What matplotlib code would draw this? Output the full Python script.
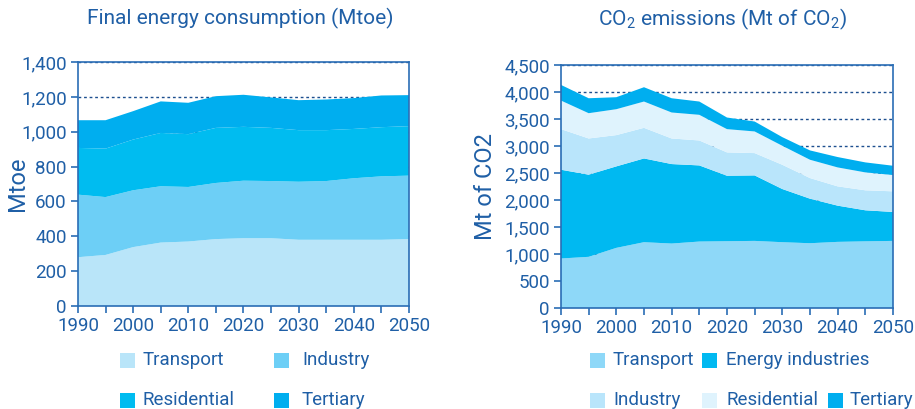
import matplotlib
matplotlib.use("Agg")
import matplotlib.pyplot as plt
from matplotlib.patches import Rectangle
from matplotlib.ticker import MultipleLocator, FuncFormatter

# ── Data ───────────────────────────────────────────────────────────
YEARS = [1990, 1995, 2000, 2005, 2010, 2015, 2020, 2025, 2030, 2035, 2040, 2045, 2050]

# Final energy consumption (Mtoe), one layer per sector
FEC_NAMES = ["Transport", "Industry", "Residential", "Tertiary"]
FEC_TRANSPORT = [280, 293, 338, 364, 370, 384, 389, 389, 380, 380, 380, 380, 384]
FEC_INDUSTRY = [359, 332, 326, 323, 313, 322, 330, 328, 333, 337, 353, 364, 364]
FEC_RESIDENTIAL = [268, 278, 291, 306, 303, 316, 309, 305, 296, 292, 283, 282, 284]
FEC_TERTIARY = [159, 163, 163, 181, 180, 182, 184, 175, 172, 176, 177, 182, 178]

# CO2 emissions (Mt)
CO2_NAMES = ["Transport", "Energy industries", "Industry", "Residential", "Tertiary"]
CO2_TRANSPORT = [917, 948, 1114, 1219, 1194, 1231, 1237, 1243, 1219, 1200, 1225, 1235, 1243]
CO2_ENERGY = [1644, 1521, 1509, 1551, 1472, 1410, 1213, 1213, 985, 825, 671, 575, 536]
CO2_INDUSTRY = [752, 671, 579, 567, 474, 462, 432, 413, 449, 382, 357, 370, 382]
CO2_RESIDENTIAL = [529, 468, 480, 487, 481, 475, 431, 401, 352, 339, 351, 332, 302]
CO2_TERTIARY = [290, 277, 222, 265, 264, 246, 215, 184, 160, 173, 192, 185, 172]

# ── Style ──────────────────────────────────────────────────────────
TEXT = "#1f5fa6"
SPINE = "#2a6db5"
FEC_COLORS = ["#b9e5f9", "#6dcff6", "#00bcf0", "#00aeef"]
CO2_COLORS = ["#8ed8f8", "#00b9f1", "#b9e5fb", "#dff3fd", "#00aeef"]

plt.rcParams["font.family"] = ["Roboto", "DejaVu Sans"]
plt.rcParams["mathtext.fontset"] = "custom"
plt.rcParams["mathtext.rm"] = "Roboto"
plt.rcParams["mathtext.it"] = "Roboto"

W, H = 915, 409
fig = plt.figure(figsize=(W / 100, H / 100), dpi=100)
fig.patch.set_facecolor("white")

ax1 = fig.add_axes([0.0852, 0.2518, 0.3617, 0.5966])
ax2 = fig.add_axes([0.6131, 0.2469, 0.3628, 0.5941])


def style_axis(ax, ymax, ystep):
    ax.set_xlim(1990, 2050)
    ax.set_ylim(0, ymax)
    ax.xaxis.set_major_locator(MultipleLocator(10))
    ax.xaxis.set_minor_locator(MultipleLocator(5))
    ax.yaxis.set_major_locator(MultipleLocator(ystep))
    ax.yaxis.set_major_formatter(FuncFormatter(lambda v, p: f"{int(v):,}"))
    for s in ax.spines.values():
        s.set_color(SPINE)
        s.set_linewidth(1.2)
    ax.tick_params(which="both", direction="out", color=SPINE, width=1.2,
                   length=5, labelcolor=TEXT, labelsize=13.5)
    ax.tick_params(axis="x", pad=3)
    ax.tick_params(axis="y", pad=3)
    ax.grid(axis="y", linestyle=(0, (2, 2)), color="#1d4f8f", linewidth=1.0, zorder=0)
    ax.set_axisbelow(True)


# ── Left: Final energy consumption ─────────────────────────────────
ax1.stackplot(YEARS, FEC_TRANSPORT, FEC_INDUSTRY, FEC_RESIDENTIAL, FEC_TERTIARY,
              colors=FEC_COLORS, linewidth=0, zorder=2)
style_axis(ax1, 1400, 200)
fig.text(17 / W, 1 - 184 / H, "Mtoe", rotation=90, color=TEXT, fontsize=17,
         ha="center", va="center")
fig.text(240 / W, 1 - 18 / H, "Final energy consumption (Mtoe)", color=TEXT,
         fontsize=15, ha="center", va="center")

# ── Right: CO2 emissions ───────────────────────────────────────────
ax2.stackplot(YEARS, CO2_TRANSPORT, CO2_ENERGY, CO2_INDUSTRY, CO2_RESIDENTIAL, CO2_TERTIARY,
              colors=CO2_COLORS, linewidth=0, zorder=2)
style_axis(ax2, 4500, 500)
fig.text(485 / W, 1 - 186 / H, "Mt of CO2", rotation=90, color=TEXT, fontsize=17,
         ha="center", va="center")
fig.text(722 / W, 1 - 19 / H, "CO$_2$ emissions (Mt of CO$_2$)", color=TEXT,
         fontsize=15, ha="center", va="center")

# ── Legends (manual, figure pixels) ────────────────────────────────
def legend_item(x_sq, y_center, color, label, x_txt):
    fig.patches.append(Rectangle((x_sq / W, 1 - (y_center + 7.5) / H), 15 / W, 15 / H,
                                 transform=fig.transFigure, facecolor=color,
                                 edgecolor="none", figure=fig))
    fig.text(x_txt / W, 1 - y_center / H, label, color=TEXT, fontsize=13.5,
             ha="left", va="center")


fec_pos = [(120, 360, 143), (274, 360, 302), (120, 400, 143), (274, 400, 302)]
for (xs, yc, xt), c, n in zip(fec_pos, FEC_COLORS, FEC_NAMES):
    legend_item(xs, yc, c, n, xt)

co2_pos = [(590, 360, 613), (702, 360, 726), (590, 400, 613), (702, 400, 726), (828, 400, 850)]
for (xs, yc, xt), c, n in zip(co2_pos, CO2_COLORS, CO2_NAMES):
    legend_item(xs, yc, c, n, xt)

fig.savefig("out.png", dpi=100, facecolor="white")
plt.close(fig)
